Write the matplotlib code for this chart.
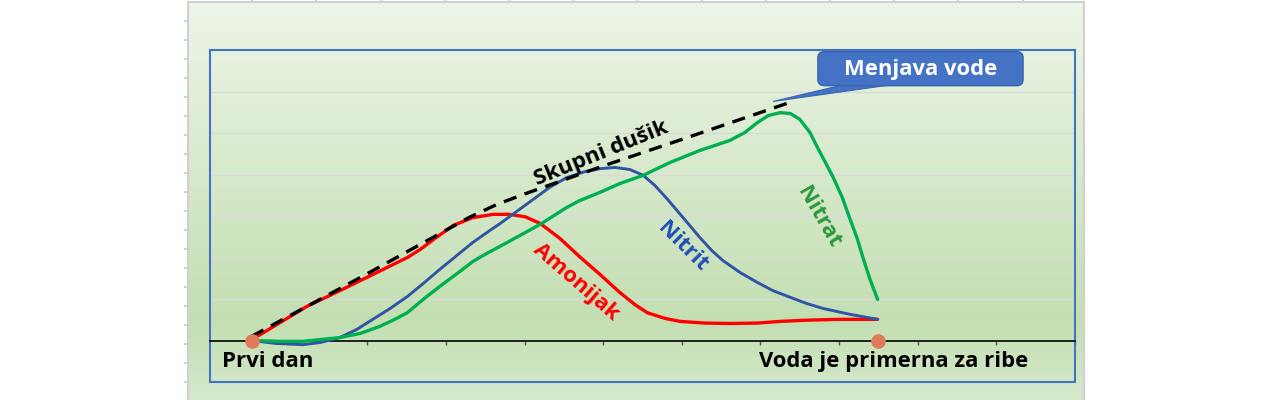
import numpy as np
import matplotlib.pyplot as plt
from matplotlib.patches import FancyBboxPatch, Polygon, Rectangle

plt.rcParams['font.family'] = ['Open Sans', 'DejaVu Sans']

# --- podaci (ocitano sa slike) ---
skupni_x = [0.53, 2.0, 3.3, 3.65, 4.0, 4.96, 6.10, 7.41]
skupni_y = [0.10, 1.61, 2.97, 3.28, 3.53, 4.18, 4.91, 5.76]

amonijak_x = [0.53, 0.89, 1.23, 1.65, 2.07, 2.51, 2.67, 2.84, 3.09, 3.34, 3.60, 3.81,
              4.01, 4.20, 4.45, 4.70, 4.96, 5.21, 5.40, 5.56, 5.79, 5.98, 6.29, 6.61,
              6.96, 7.25, 7.59, 8.01, 8.49]
amonijak_y = [0.02, 0.43, 0.82, 1.20, 1.59, 2.00, 2.19, 2.43, 2.77, 2.96, 3.04, 3.04,
              2.98, 2.82, 2.46, 2.02, 1.59, 1.16, 0.87, 0.67, 0.53, 0.46, 0.42, 0.41,
              0.42, 0.46, 0.49, 0.51, 0.51]

nitrit_x = [0.53, 0.83, 1.18, 1.40, 1.65, 1.87, 2.07, 2.29, 2.51, 2.71, 2.92, 3.14,
            3.34, 3.52, 3.69, 3.85, 4.11, 4.32, 4.54, 4.77, 4.96, 5.15, 5.34, 5.51,
            5.66, 5.81, 5.94, 6.07, 6.23, 6.38, 6.52, 6.74, 6.96, 7.16, 7.38, 7.59,
            7.80, 8.14, 8.49]
nitrit_y = [0.0, -0.07, -0.10, -0.05, 0.07, 0.27, 0.51, 0.77, 1.06, 1.37, 1.71, 2.05,
            2.36, 2.60, 2.82, 3.04, 3.40, 3.69, 3.93, 4.07, 4.14, 4.17, 4.12, 3.98,
            3.73, 3.42, 3.13, 2.84, 2.48, 2.17, 1.93, 1.64, 1.40, 1.20, 1.04, 0.89,
            0.77, 0.63, 0.51]

nitrat_x = [0.53, 0.89, 1.18, 1.65, 1.91, 2.16, 2.35, 2.51, 2.71, 2.92, 3.14, 3.34,
            3.52, 3.69, 3.94, 4.20, 4.54, 4.70, 4.96, 5.21, 5.51, 5.85, 6.23, 6.61,
            6.80, 6.96, 7.10, 7.25, 7.38, 7.50, 7.63, 7.72, 7.82, 7.92, 8.04, 8.14,
            8.23, 8.30, 8.39, 8.49]
nitrat_y = [0.0, -0.02, -0.02, 0.07, 0.17, 0.34, 0.51, 0.67, 0.99, 1.30, 1.61, 1.90,
            2.10, 2.27, 2.53, 2.80, 3.21, 3.37, 3.57, 3.78, 3.98, 4.29, 4.58, 4.82,
            5.01, 5.25, 5.42, 5.49, 5.47, 5.33, 5.01, 4.67, 4.31, 3.95, 3.45, 2.92,
            2.46, 2.02, 1.49, 0.99]

tacke_x = [0.53, 8.49]
tacke_y = [0.0, 0.0]

fig = plt.figure(figsize=(12.8, 4), dpi=100)
fig.patch.set_facecolor('white')

# pozadina sa gradijentom
bg = fig.add_axes([188 / 1280, 0, 896 / 1280, 0.995])
stops = np.array([0.0, 0.8, 1.0])
cols = np.array([[238, 245, 232], [195, 223, 178], [214, 233, 204]]) / 255.0
t = np.linspace(0, 1, 400)
grad = np.stack([np.interp(t, stops, cols[:, i]) for i in range(3)], axis=1)
bg.imshow(grad[:, None, :], aspect='auto', extent=[0, 896, 0, 398])
bg.set_xlim(0, 896)
bg.set_ylim(0, 398)
for s in ['left', 'top', 'right']:
    bg.spines[s].set_color('#d0d0d0')
    bg.spines[s].set_linewidth(1.5)
bg.spines['bottom'].set_visible(False)
bg.xaxis.tick_top()
bg.set_xticks(np.arange(64.2, 896, 64.2))
bg.set_yticks(np.arange(398 - 19, 0, -19))
bg.tick_params(colors='#c8c8c8', length=3, width=1.2, direction='out',
               labelleft=False, labeltop=False, labelbottom=False)

# glavni grafikon
ax = fig.add_axes([210 / 1280, 18 / 400, 865 / 1280, 332 / 400])
ax.patch.set_visible(False)
ax.set_xlim(0, 11)
ax.set_ylim(-1, 7)
for s in ['left', 'top', 'right']:
    ax.spines[s].set_visible(False)
ax.spines['bottom'].set_position(('data', 0))
ax.spines['bottom'].set_color('black')
ax.spines['bottom'].set_linewidth(1.2)
ax.set_xticks(range(1, 12))
ax.set_yticks([])
ax.tick_params(axis='x', direction='out', length=3, width=1, colors='#555555',
               labelbottom=False)
for gy in range(1, 7):
    ax.axhline(gy, color='#d9d9d9', lw=1, zorder=1)
ax.add_patch(Rectangle((0, 0), 1, 1, transform=ax.transAxes, fill=False,
                       edgecolor='#4472C4', lw=1.5, clip_on=False, zorder=2))

kw = dict(solid_capstyle='round', solid_joinstyle='round')
ax.plot(amonijak_x, amonijak_y, color='#FF0000', lw=2.4, zorder=3, **kw)
ax.plot(nitrit_x, nitrit_y, color='#2F55A4', lw=2.1, zorder=4, **kw)
ax.plot(nitrat_x, nitrat_y, color='#00B050', lw=2.4, zorder=5, **kw)
ax.plot(skupni_x, skupni_y, color='black', lw=2.4, dashes=(4, 2.6), zorder=6)
ax.scatter(tacke_x, tacke_y, s=110, color='#E07A5A', zorder=7, linewidths=0)

lab = dict(ha='center', va='center', fontsize=16, fontweight='bold', zorder=8)
ax.text(4.97, 4.50, 'Skupni dušik', rotation=22, color='black', **lab)
ax.text(4.65, 1.40, 'Amonijak', rotation=-41, color='#FF0000', **lab)
ax.text(6.01, 2.26, 'Nitrit', rotation=-45, color='#1F4FB8', **lab)
ax.text(7.74, 2.96, 'Nitrat', rotation=-60, color='#2A9A3A', **lab)

ax.text(0.15, -0.63, 'Prvi dan', ha='left', va='baseline', fontsize=16,
        fontweight='bold', color='black')
ax.text(6.98, -0.65, 'Voda je primerna za ribe', ha='left', va='baseline',
        fontsize=15.8, fontweight='bold', color='black')

# oblacic "Menjava vode"
ax.add_patch(Polygon([[7.16, 5.76], [8.14, 6.20], [8.81, 6.20]], closed=True,
                     facecolor='#4472C4', edgecolor='#3B65B0', lw=0.8, zorder=8))
ax.add_patch(FancyBboxPatch((7.73, 6.14), 2.61, 0.82,
                            boxstyle='round,pad=0,rounding_size=0.08',
                            mutation_aspect=1.9, facecolor='#4472C4',
                            edgecolor='#3B65B0', lw=1, zorder=9))
ax.text(9.04, 6.53, 'Menjava vode', ha='center', va='center', fontsize=15.8,
        fontweight='bold', color='white', zorder=10)

fig.savefig('out.png', dpi=100)
